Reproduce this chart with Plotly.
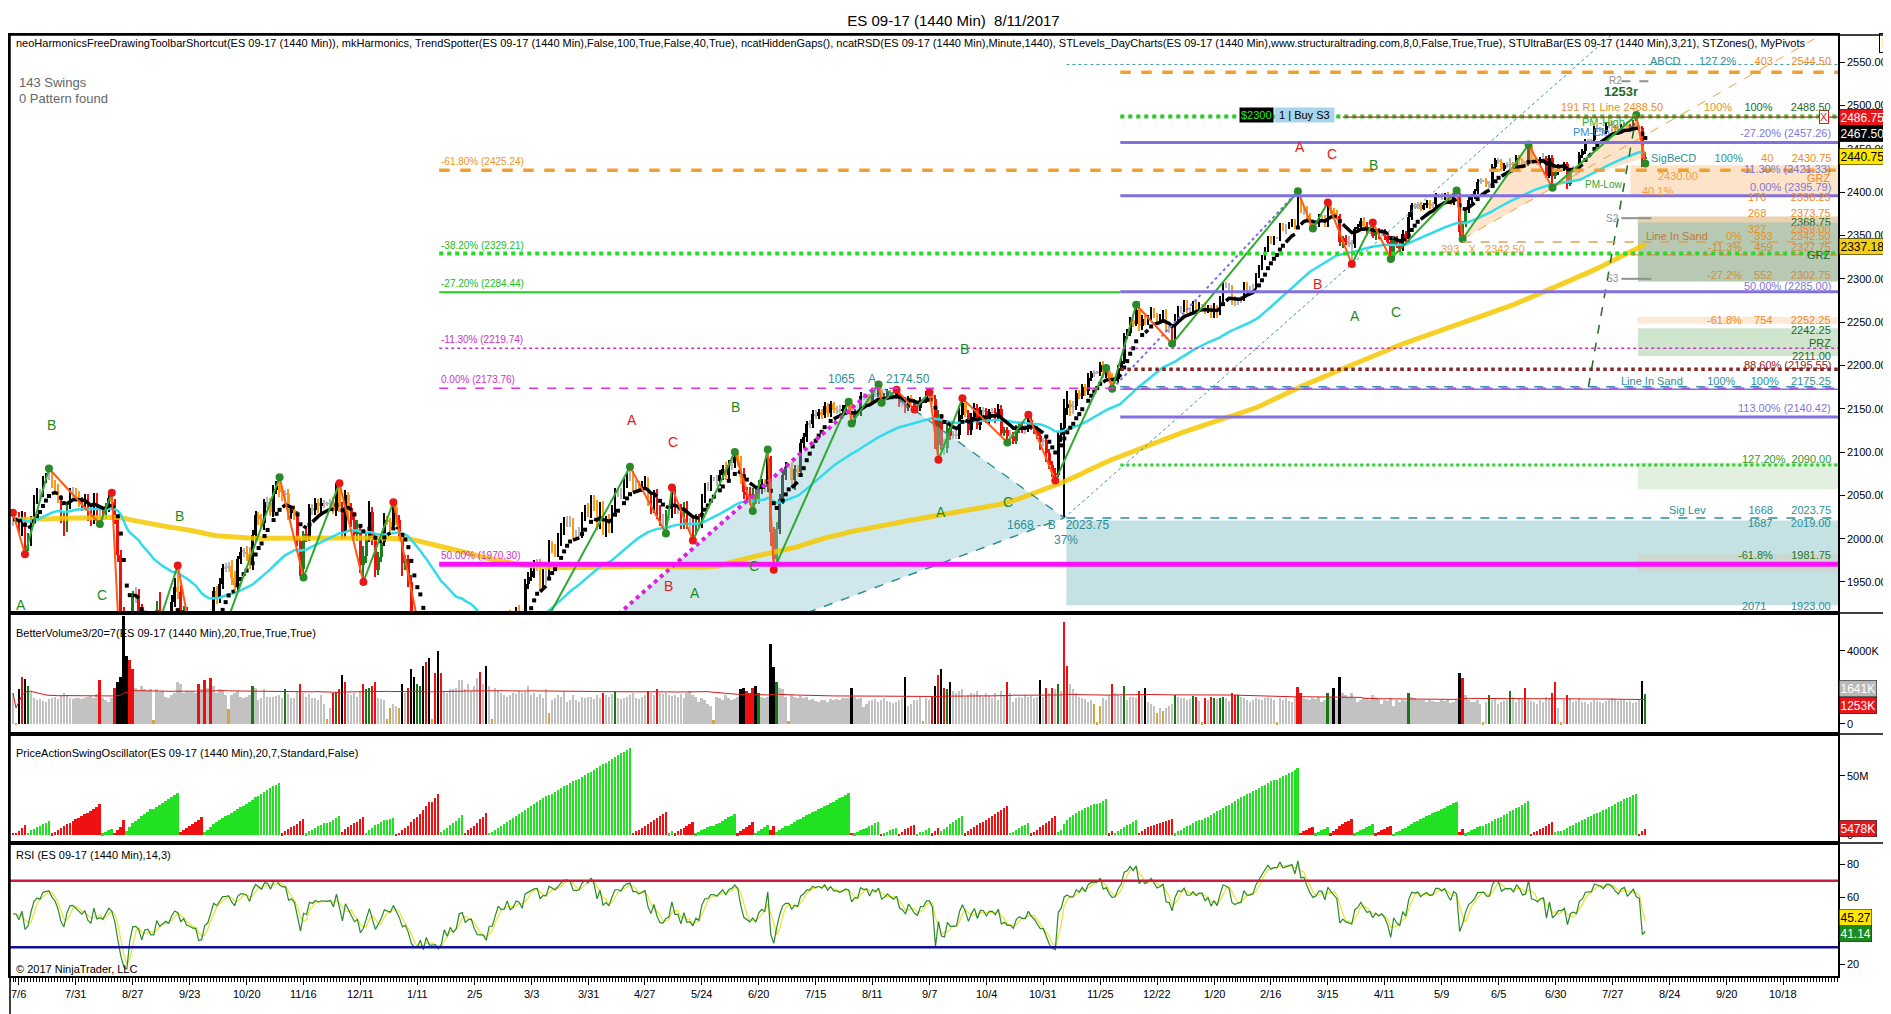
import numpy as np
import pandas as pd
import plotly.graph_objects as go

# ES 09-17 daily (1440 min) bars, 2 Jul 2015 .. 11 Aug 2017
tick_labels = ["7/6", "7/31", "8/27", "9/23", "10/20", "11/16", "12/11", "1/11", "2/5", "3/3",
               "3/31", "4/27", "5/24", "6/20", "7/15", "8/11", "9/7", "10/4", "10/31", "11/25",
               "12/22", "1/20", "2/16", "3/15", "4/11", "5/9", "6/5", "6/30", "7/27", "8/24",
               "9/20", "10/18"]

closes = [
    2022, 2022, 2013, 2026, 1992, 1997, 2022, 2045, 2054, 2052, 2069, 2072, 2073, 2064, 2059, 2047, 2025, 2013, 2038, 2053, 2054, 2049,
    2043, 2039, 2045, 2029, 2023, 2049, 2029, 2031, 2028, 2037, 2047, 2042, 2024, 1981, 1916, 1838, 1813, 1885, 1933, 1934, 1917,
    1862, 1896, 1899, 1869, 1869, 1918, 1891, 1901, 1909, 1901, 1927, 1944, 1938, 1906, 1915, 1891, 1887, 1880, 1879, 1830, 1832, 1868,
    1875, 1903, 1939, 1932, 1948, 1966, 1967, 1969, 1955, 1946, 1976, 1985, 1985, 1982, 1970, 2004, 2027, 2023, 2018, 2042, 2041, 2031,
    2056, 2061, 2054, 2051, 2051, 2030, 2033, 2027, 1997, 1965, 2005, 2002, 2035, 2033, 2041, 2038, 2041, 2040, 2040, 2042, 2032,
    2060, 2037, 2008, 2050, 2035, 2021, 2005, 2010, 1970, 1980, 2001, 2031, 1999, 1964, 1979, 1996, 2022, 2019, 2015, 2036, 2021, 2002,
    1972, 1976, 1950, 1903, 1882, 1883, 1898, 1850, 1881, 1840, 1840, 1841, 1819, 1829, 1866, 1838, 1863, 1842, 1853, 1900,
    1904, 1868, 1877, 1879, 1844, 1817, 1816, 1815, 1793, 1829, 1829, 1860, 1891, 1881, 1882, 1910, 1885, 1893, 1915, 1912, 1896,
    1948, 1956, 1963, 1969, 1971, 1949, 1959, 1959, 1992, 1989, 1985, 1997, 2010, 2019, 2021, 2019, 2006, 2005, 2007, 2025, 2033, 2030,
    2044, 2037, 2016, 2037, 2012, 2018, 2012, 2033, 2053, 2053, 2051, 2065, 2071, 2073, 2062, 2062, 2059, 2062, 2066, 2046, 2036,
    2051, 2033, 2021, 2020, 2027, 2029, 2054, 2034, 2034, 2017, 2036, 2017, 2018, 2010, 2022, 2018, 2046, 2060, 2060, 2069, 2069, 2067,
    2074, 2080, 2074, 2085, 2087, 2094, 2090, 2071, 2054, 2050, 2047, 2052, 2046, 2058, 2063, 2060, 2093, 2008, 1976, 2011, 2046, 2074,
    2083, 2083, 2068, 2080, 2077, 2110, 2117, 2132, 2132, 2144, 2142, 2146, 2143, 2153, 2145, 2155, 2149, 2149, 2147, 2150, 2154,
    2153, 2139, 2146, 2146, 2165, 2163, 2164, 2157, 2168, 2166, 2172, 2161, 2164, 2169, 2166, 2164, 2168, 2157, 2155, 2151, 2162, 2158, 2153,
    2151, 2160, 2160, 2166, 2166, 2161, 2108, 2139, 2107, 2105, 2128, 2119, 2119, 2120, 2143, 2157, 2145, 2126, 2140, 2151, 2131, 2148,
    2147, 2137, 2146, 2146, 2140, 2150, 2122, 2125, 2119, 2119, 2113, 2126, 2130, 2127, 2127, 2137, 2130, 2126, 2119, 2112, 2112,
    2099, 2085, 2076, 2073, 2120, 2128, 2151, 2155, 2152, 2153, 2168, 2165, 2175, 2170, 2186, 2191, 2192, 2192, 2201, 2190, 2193, 2187,
    2183, 2184, 2197, 2205, 2234, 2238, 2252, 2248, 2264, 2245, 2254, 2250, 2255, 2263, 2258, 2253, 2256, 2261, 2242, 2241, 2231,
    2253, 2266, 2265, 2272, 2264, 2264, 2270, 2266, 2270, 2270, 2263, 2267, 2259, 2266, 2261, 2276, 2293, 2292, 2290, 2276, 2274,
    2276, 2277, 2293, 2289, 2289, 2291, 2304, 2313, 2325, 2334, 2346, 2343, 2347, 2347, 2362, 2358, 2360, 2363, 2366, 2360,
    2394, 2379, 2381, 2373, 2366, 2361, 2363, 2371, 2371, 2363, 2383, 2379, 2376, 2372, 2342, 2347, 2343, 2342, 2340, 2357, 2360, 2367, 2361,
    2356, 2357, 2350, 2355, 2352, 2354, 2350, 2342, 2326, 2346, 2339, 2335, 2352, 2346, 2371, 2385, 2384, 2386, 2381,
    2385, 2388, 2385, 2386, 2396, 2396, 2394, 2397, 2392, 2388, 2399, 2397, 2354, 2363, 2379, 2391, 2395, 2401, 2412, 2413, 2413, 2409, 2409,
    2429, 2437, 2435, 2427, 2431, 2432, 2432, 2429, 2440, 2437, 2432, 2433, 2453, 2437, 2436, 2434, 2438, 2439, 2419, 2440, 2419, 2423,
    2429, 2429, 2432, 2410, 2425, 2427, 2425, 2443, 2447, 2459, 2459, 2460, 2474, 2473, 2472, 2470, 2477, 2477, 2475, 2472, 2470,
    2476, 2478, 2472, 2476, 2480, 2475, 2474, 2438, 2440.75,
]

# how far each bar's high / low reaches beyond its body
hi_ext = [
    8, 2, 9, 6, 5, 9, 4, 5, 4, 3, 3, 4, 8, 5, 4, 4, 3, 6, 4, 5, 6, 5,
    6, 5, 7, 6, 5, 4, 4, 5, 5, 4, 4, 6, 4, 3, 6, 5, 40, 12, 6, 10, 8,
    8, 10, 12, 15, 2, 10, 20, 8, 6, 5, 8, 10, 25, 8, 7, 6, 10, 6, 12, 5, 8, 5,
    6, 8, 5, 6, 6, 5, 5, 4, 6, 8, 4, 5, 4, 6, 8, 6, 5, 4, 5, 4, 6, 6,
    6, 5, 10, 6, 5, 6, 5, 6, 5, 4, 4, 8, 5, 5, 6, 5, 6, 4, 2, 4, 6,
    4, 4, 5, 6, 4, 6, 10, 12, 6, 12, 6, 12, 6, 6, 6, 6, 8, 4, 5, 6, 4, 6,
    6, 5, 5, 8, 10, 10, 8, 12, 6, 5, 2, 10, 15, 12, 8, 6, 8, 12, 6, 8,
    5, 6, 15, 10, 8, 5, 8, 15, 8, 5, 2, 5, 6, 5, 8, 5, 8, 5, 6, 8, 5,
    5, 5, 6, 6, 6, 5, 6, 8, 6, 5, 5, 10, 8, 6, 5, 5, 5, 4, 6, 6, 6, 8,
    6, 6, 8, 5, 6, 8, 10, 6, 6, 5, 5, 6, 5, 10, 5, 6, 5, 5, 6, 5, 6,
    5, 6, 6, 8, 6, 6, 5, 6, 6, 6, 6, 8, 6, 6, 6, 6, 5, 4, 5, 4, 2, 5,
    5, 5, 8, 6, 8, 6, 6, 5, 10, 6, 10, 6, 5, 10, 6, 6, 10, 2, 6, 8, 5, 5,
    5, 2, 6, 5, 5, 5, 5, 4, 5, 4, 4, 4, 4, 5, 4, 4, 3, 4, 5, 4, 4,
    4, 4, 4, 3, 4, 3, 3, 3, 4, 3, 6, 3, 4, 4, 3, 3, 4, 3, 3, 8, 3, 4, 3,
    3, 4, 2, 4, 3, 3, 5, 10, 5, 8, 5, 5, 5, 6, 10, 5, 5, 3, 5, 6, 5, 4,
    4, 4, 4, 5, 5, 6, 4, 4, 4, 6, 4, 5, 4, 4, 4, 6, 4, 4, 4, 6, 4,
    4, 5, 5, 5, 4, 6, 10, 15, 5, 6, 4, 4, 4, 4, 5, 3, 3, 2, 3, 4, 4, 4,
    4, 4, 4, 4, 4, 4, 4, 3, 6, 10, 4, 4, 3, 4, 3, 3, 3, 3, 4, 3, 4,
    6, 3, 3, 4, 3, 3, 4, 4, 3, 1, 3, 3, 3, 6, 4, 4, 3, 3, 3, 3, 4,
    3, 3, 3, 3, 3, 3, 3, 3, 3, 3, 3, 3, 3, 1, 3, 3, 3, 3, 3, 3,
    7, 3, 3, 3, 3, 3, 3, 4, 3, 3, 5, 4, 3, 3, 3, 3, 4, 6, 3, 3, 3, 3, 4,
    5, 3, 8, 4, 4, 4, 3, 3, 4, 3, 3, 5, 4, 3, 6, 3, 3, 3, 3,
    3, 3, 3, 3, 3, 2, 3, 2, 3, 2, 3, 3, 2, 4, 3, 3, 3, 3, 3, 3, 1, 3, 4,
    3, 3, 3, 3, 3, 3, 8, 3, 3, 3, 3, 3, 2, 3, 3, 3, 3, 6, 3, 3, 3, 3,
    3, 1, 3, 3, 3, 3, 3, 3, 3, 3, 2, 2, 2, 2, 2, 2, 3, 4, 5, 3, 4,
    3, 3, 3, 3, 3, 9, 3, 3, 6,
]
lo_ext = [
    7, 1, 8, 10, 10, 6, 5, 4, 5, 5, 4, 5, 4, 6, 5, 6, 7, 10, 5, 4, 6, 7,
    6, 7, 6, 9, 8, 6, 9, 12, 6, 5, 6, 5, 7, 8, 6, 60, 20, 25, 8, 7, 9,
    10, 8, 6, 10, 2, 8, 5, 12, 8, 8, 6, 6, 8, 10, 8, 10, 8, 8, 7, 8, 6, 5,
    5, 30, 6, 8, 6, 6, 5, 6, 8, 6, 6, 5, 6, 8, 5, 6, 8, 7, 6, 8, 6, 5,
    6, 5, 6, 8, 6, 8, 7, 5, 5, 8, 10, 6, 5, 6, 6, 8, 12, 5, 2, 5, 4,
    6, 6, 8, 7, 10, 8, 6, 8, 10, 20, 8, 5, 6, 8, 6, 6, 4, 3, 8, 4, 5, 5,
    15, 8, 6, 10, 6, 12, 8, 6, 25, 10, 2, 8, 30, 10, 6, 8, 6, 6, 12, 6,
    10, 6, 15, 8, 6, 20, 15, 10, 15, 6, 2, 5, 6, 8, 6, 5, 6, 15, 8, 6, 6,
    8, 6, 5, 8, 6, 8, 6, 12, 6, 5, 6, 6, 6, 6, 5, 6, 6, 6, 6, 6, 5, 5,
    6, 5, 6, 5, 8, 10, 5, 6, 5, 5, 5, 5, 6, 5, 8, 6, 5, 5, 6, 8, 8,
    6, 10, 6, 6, 14, 6, 5, 6, 6, 6, 6, 6, 12, 12, 6, 6, 6, 5, 5, 5, 2, 6,
    6, 6, 6, 6, 6, 6, 6, 8, 8, 8, 8, 15, 6, 6, 6, 6, 6, 16, 12, 6, 6, 6,
    6, 2, 10, 12, 6, 6, 5, 5, 4, 4, 4, 4, 5, 4, 4, 4, 4, 5, 4, 5, 4,
    5, 6, 5, 4, 4, 3, 3, 5, 3, 3, 3, 4, 5, 3, 4, 4, 3, 5, 3, 6, 4, 3, 4,
    4, 4, 2, 3, 4, 5, 4, 17, 5, 8, 6, 5, 4, 4, 5, 5, 4, 6, 6, 4, 4, 5,
    4, 4, 5, 5, 6, 4, 4, 4, 8, 4, 4, 4, 4, 5, 6, 4, 4, 5, 4, 10, 5,
    10, 5, 5, 6, 2, 8, 104, 8, 10, 8, 5, 4, 4, 5, 4, 4, 4, 2, 4, 5, 5, 4,
    10, 4, 4, 3, 3, 4, 4, 4, 3, 5, 4, 3, 3, 3, 3, 3, 2, 3, 3, 4, 6,
    4, 3, 4, 3, 3, 3, 6, 8, 3, 1, 4, 3, 4, 4, 6, 3, 3, 3, 3, 6, 5,
    4, 4, 3, 3, 3, 3, 3, 3, 3, 3, 3, 3, 4, 1, 3, 3, 6, 3, 3, 3,
    3, 3, 5, 5, 5, 3, 5, 3, 3, 3, 3, 4, 3, 4, 4, 6, 4, 5, 23, 4, 3, 3, 4,
    5, 4, 3, 5, 6, 3, 5, 3, 3, 4, 3, 4, 3, 4, 3, 3, 3, 3, 3,
    2, 3, 4, 3, 3, 3, 3, 3, 4, 3, 3, 3, 4, 8, 3, 3, 3, 3, 3, 3, 1, 3, 4,
    3, 3, 3, 3, 3, 3, 12, 6, 3, 5, 5, 3, 3, 3, 3, 3, 3, 3, 3, 3, 14, 4,
    3, 1, 4, 6, 3, 3, 5, 3, 3, 3, 3, 3, 3, 3, 3, 3, 3, 3, 5, 5, 3,
    3, 3, 3, 3, 3, 3, 3, 9, 5,
]

# contracts per bar, thousands
volume_k = [
    1700, 60, 1900, 2550, 2450, 2100, 1750, 1450, 1300, 1350, 1250, 1200, 1350, 1400, 1500, 1350, 1600, 1700, 1550, 1450, 1350, 1400,
    1400, 1350, 1400, 1500, 1550, 1400, 1650, 2400, 1450, 1300, 1200, 1400, 2000, 2300, 2600, 5900, 3700, 3500, 3000, 2000, 1800,
    2100, 1900, 1800, 1900, 200, 1900, 1750, 1800, 1500, 1450, 1600, 1700, 2300, 2200, 1700, 1800, 1750, 1800, 1700, 2200, 1900, 2400,
    2000, 2500, 2100, 1700, 1900, 1850, 1600, 800, 1600, 1700, 1800, 1500, 1400, 1500, 1600, 2100, 2000, 1300, 1400, 1900, 1500, 1500,
    1500, 1550, 1600, 1450, 1900, 1650, 1450, 1400, 1750, 2200, 1700, 1500, 1650, 1400, 1450, 1300, 1600, 1100, 250, 900, 1700,
    1750, 1900, 2700, 2300, 1650, 1600, 1700, 1500, 1800, 2200, 1900, 2000, 2100, 2300, 1400, 1350, 1300, 300, 900, 1100, 1000, 900,
    2200, 1700, 2000, 3000, 2600, 2200, 2100, 3200, 3400, 3600, 300, 2800, 4000, 2800, 1800, 1700, 1900, 1900, 2000, 2400,
    2400, 1900, 2200, 1800, 2100, 2500, 2850, 2200, 3200, 2100, 300, 2000, 1800, 1700, 1600, 1500, 1600, 1700, 1650, 1800, 1700,
    1750, 2100, 1600, 1700, 1500, 1650, 1450, 1900, 600, 1300, 1400, 1600, 1500, 1800, 1200, 1300, 1600, 1300, 1200, 1500, 1400, 1500,
    1500, 1350, 1600, 1400, 1700, 1600, 1500, 1650, 1800, 1450, 1350, 1400, 1500, 1600, 1700, 1400, 1350, 1500, 1600, 1800, 1700,
    1600, 1900, 1700, 1650, 1700, 1600, 1550, 1600, 1500, 1650, 1450, 1700, 1800, 1600, 1500, 1200, 1400, 1300, 1100, 1000, 200, 1500,
    1400, 1300, 1600, 1400, 1300, 1350, 1500, 1900, 2000, 1800, 1700, 2000, 2100, 1700, 1500, 1400, 1500, 4400, 3100, 2300, 2000, 1900,
    1500, 150, 1600, 1500, 1400, 1550, 1400, 1500, 1300, 1350, 1250, 1200, 1300, 1300, 1200, 1350, 1300, 1350, 1300, 1400, 1400,
    1400, 1950, 1500, 1350, 1450, 950, 1100, 1250, 1300, 1350, 1200, 1300, 1400, 1250, 1200, 1150, 1200, 1300, 1450, 2550, 1000, 1100, 1300,
    1300, 1500, 150, 1400, 1300, 1500, 2100, 2700, 3000, 2000, 1900, 2300, 1800, 1700, 1800, 1900, 1500, 1600, 1700, 1650, 1800, 1600,
    1500, 1700, 1600, 1450, 1700, 1300, 1800, 1600, 2300, 1700, 1200, 1400, 1500, 1450, 1600, 1500, 1550, 1400, 1500, 2400, 1500,
    2000, 1700, 2000, 1900, 2200, 1800, 5600, 3200, 2200, 1900, 1700, 1500, 1400, 1350, 1200, 1300, 1100, 100, 1000, 1400, 1300, 1600,
    2200, 1700, 1600, 1550, 2100, 1300, 1500, 1500, 1400, 1800, 1600, 2000, 1200, 1100, 1000, 600, 900, 700, 900, 1000, 1100,
    1600, 1500, 1400, 1450, 1300, 1350, 1550, 1500, 1250, 100, 1400, 1300, 1500, 1400, 1350, 1450, 1500, 1400, 1250, 1700, 1600,
    1600, 1500, 1400, 1300, 1200, 1300, 1400, 1350, 1300, 1400, 1500, 1400, 1300, 100, 1400, 1300, 1400, 1250, 1200, 1500,
    2050, 1700, 1400, 1350, 1300, 1400, 1350, 1500, 1200, 1300, 1700, 1500, 2000, 1300, 2600, 1700, 1600, 1500, 1700, 1400, 1200, 1300, 1450,
    1400, 1300, 1600, 1500, 1400, 1100, 1300, 1250, 1400, 1000, 1300, 1200, 1300, 1250, 1700, 1500, 1400, 1300, 1300,
    1300, 1200, 1300, 1250, 1200, 1200, 1300, 1250, 1300, 1150, 1200, 1300, 2800, 2500, 1600, 1300, 1200, 1200, 1300, 1100, 100, 1200, 1600,
    1300, 1400, 1100, 1200, 1250, 1300, 1800, 1500, 1200, 1400, 1350, 2000, 1300, 1250, 1200, 1100, 1300, 1200, 1500, 1400, 1700, 2300,
    900, 100, 1300, 1600, 1400, 1200, 1250, 1400, 1200, 1200, 1100, 1200, 1300, 1250, 1200, 1150, 1250, 1300, 1400, 1350, 1250,
    1300, 1300, 1200, 1250, 1150, 1200, 1300, 2360, 1641,
]

# bars where the price-action swings turn (alternating high / low, starting with a high)
swing_pivots = [0, 4, 12, 29, 33, 37, 55, 63, 89, 97, 109, 117, 127, 142, 150, 158, 206, 218, 220, 227,
                241, 247, 252, 254, 279, 280, 289, 290, 295, 301, 306, 309, 317, 332, 339, 348, 365, 367,
                375, 387, 429, 434, 439, 447, 454, 460, 482, 484, 506, 514, 542, 545]

fib_levels = [2425.24, 2329.21, 2284.44, 2219.74, 2173.76, 1970.30]
fib_names = ["-61.80%", "-38.20%", "-27.20%", "-11.30%", "0.00%", "50.00%"]
mirror_levels = [2457.26, 2395.79, 2285.00, 2140.42]
pattern_bars = [158, 289, 351]            # X, A, B of the large harmonic
abcd_bars = [484, 506, 514, 542, 545]     # X, A, B, C, D of the small one
sig_zone = [1923.00, 2021.00]
target_zones = [[2297, 2370], [2211, 2243], [2057, 2088], [1962, 1982]]
grz_zone = [2396, 2431]
line_in_sand = 2175.25
price_tags = [2486.75, 2467.50, 2440.75, 2337.18]
volume_tags = [1641, 1253]
osc_tag = 5478
rsi_tags = [45.27, 41.14]

n = len(closes)
assert len(hi_ext) == n and len(lo_ext) == n and len(volume_k) == n, (n, len(hi_ext), len(lo_ext), len(volume_k))

idx = np.arange(n)
close = np.array(closes, dtype=float)
opens = np.r_[close[0], close[:-1]]
highs = np.maximum(opens, close) + np.array(hi_ext)
lows = np.minimum(opens, close) - np.array(lo_ext)
vol = np.array(volume_k, dtype=float)

s = pd.Series(close)
ema_fast = s.ewm(span=10, adjust=False).mean().to_numpy()
ema_mid = s.ewm(span=20, adjust=False).mean().to_numpy()
ema_slow = s.ewm(span=50, adjust=False).mean().to_numpy()
# 200 bar average; bars before the first one on the chart are taken as flat at the first close
warm = pd.Series(np.r_[np.full(199, close[0]), close])
sma_long = warm.rolling(200).mean().to_numpy()[199:]

# Wilder RSI(14) seeded with a neutral state, plus its 3 bar average
chg = np.r_[0.0, np.diff(close)]
avg_g = avg_l = np.abs(chg[1:15]).mean() / 2
rsi_vals = []
for c in chg:
    avg_g = (avg_g * 13 + max(c, 0)) / 14
    avg_l = (avg_l * 13 + max(-c, 0)) / 14
    rsi_vals.append(100 - 100 / (1 + avg_g / avg_l) if avg_l > 0 else 100.0)
rsi = pd.Series(rsi_vals)
rsi_avg = rsi.rolling(3, min_periods=1).mean()

GRAY, BLACK, ORANGE, DKGREEN, RED = "#b4b4b4", "#000000", "#ff9818", "#1d7d1d", "#ee1010"
TEAL, ORANGE_T, DKGREEN_T, PURPLE_T, MAROON = "#2b8f96", "#f08c1e", "#1f6b1f", "#8076d8", "#8b2222"

bar_colors = []
for o, c, m in zip(opens, close, ema_mid):
    if abs(c - o) < 2.5:
        bar_colors.append(GRAY)
    elif c > o:
        bar_colors.append(BLACK if c >= m else DKGREEN)
    else:
        bar_colors.append(ORANGE if c >= m else RED)

vavg20 = pd.Series(vol).rolling(20, min_periods=1).mean().to_numpy()
vol_colors = []
for v, a, o, c in zip(vol, vavg20, opens, close):
    if v < 0.6 * a:
        vol_colors.append("#d4a640")
    elif v > 1.35 * a:
        vol_colors.append(RED if c >= o else BLACK)
    elif v > 1.15 * a:
        vol_colors.append("#157a15" if c >= o else RED)
    else:
        vol_colors.append("#c2c2c2")
vol_avg = pd.Series(vol).rolling(100, min_periods=1).mean().to_numpy()

# swing oscillator: volume accumulated along each swing
osc = np.zeros(n)
osc_colors = ["#ee1111"] * n
for k in range(len(swing_pivots) - 1):
    a = 0 if k == 0 else swing_pivots[k] + 1
    b = swing_pivots[k + 1]
    osc[a:b + 1] = np.cumsum(vol[a:b + 1]) / 1000.0
    for i in range(a, b + 1):
        osc_colors[i] = "#ee1111" if k % 2 == 0 else "#22e022"

piv_price = [highs[p] if k % 2 == 0 else lows[p] for k, p in enumerate(swing_pivots)]

X_END = 609.33
FIB_X0 = 142.3
TOOL_X0 = 369.7

fig = go.Figure()

# large harmonic X-A-B fill
px_ = [pattern_bars[0], pattern_bars[1], pattern_bars[2], pattern_bars[0]]
py_ = [lows[pattern_bars[0]], highs[pattern_bars[1]], lows[pattern_bars[2]], lows[pattern_bars[0]]]
fig.add_trace(go.Scatter(x=px_, y=py_, fill="toself", fillcolor="rgba(150,205,210,0.45)",
                         line=dict(width=0), mode="lines", xaxis="x", yaxis="y"))
# small ABCD fills
xa, aa, ba, ca, da = abcd_bars
fig.add_trace(go.Scatter(x=[xa, aa, ba, xa], y=[lows[xa], highs[aa], lows[ba], lows[xa]], fill="toself",
                         fillcolor="rgba(252,196,140,0.45)", line=dict(width=0), mode="lines"))
fig.add_trace(go.Scatter(x=[ba, ca, da, ba], y=[lows[ba], highs[ca], close[da], lows[ba]], fill="toself",
                         fillcolor="rgba(252,196,140,0.45)", line=dict(width=0), mode="lines"))

# price bars
fig.add_trace(go.Bar(x=idx, y=highs - lows, base=lows, width=0.4, marker=dict(color=bar_colors, line=dict(width=0)),
                     xaxis="x", yaxis="y"))
fig.add_trace(go.Bar(x=idx, y=np.maximum(np.abs(close - opens), 0.9), base=np.minimum(opens, close), width=0.9,
                     marker=dict(color=bar_colors, line=dict(width=0)), xaxis="x", yaxis="y"))

# moving averages
fig.add_trace(go.Scatter(x=idx, y=sma_long, mode="lines", line=dict(color="rgba(245,200,0,0.85)", width=5)))
fig.add_trace(go.Scatter(x=idx, y=ema_slow, mode="lines", line=dict(color="#30dcec", width=2.5)))
steep = np.r_[False, np.abs(np.diff(ema_fast)) > 4.0]
solid = np.where(steep, np.nan, ema_fast)
fig.add_trace(go.Scatter(x=idx, y=solid, mode="lines", line=dict(color="black", width=3.5), connectgaps=False))
fig.add_trace(go.Scatter(x=idx[steep], y=ema_fast[steep], mode="markers",
                         marker=dict(symbol="square", size=4, color="black")))

# harmonic legs
fig.add_trace(go.Scatter(x=[pattern_bars[0], pattern_bars[1]], y=[py_[0], py_[1]], mode="lines",
                         line=dict(color="#e020e0", width=4, dash="dot")))
fig.add_trace(go.Scatter(x=[pattern_bars[0], pattern_bars[2], pattern_bars[1]], y=[py_[0], py_[2], py_[1]],
                         mode="lines", line=dict(color=TEAL, width=1.5, dash="dash")))
# B trend line through the March 2017 low
b0, b1 = pattern_bars[2], 447
slope = (lows[b1] - lows[b0]) / (b1 - b0)
fig.add_trace(go.Scatter(x=[b0, 545], y=[lows[b0], lows[b0] + slope * (545 - b0)], mode="lines",
                         line=dict(color="#3a8fb0", width=1, dash="dot")))
# Dec->Mar leg
fig.add_trace(go.Scatter(x=[367, 429], y=[lows[367], highs[429]], mode="lines",
                         line=dict(color="#7c70e0", width=2, dash="dot")))
# line in sand projection
fig.add_trace(go.Scatter(x=[526, ca], y=[line_in_sand, highs[ca]], mode="lines",
                         line=dict(color="#1d6b1d", width=1.5, dash="dash")))
# X->B projection of the small pattern
sl2 = (lows[ba] - lows[xa]) / (ba - xa)
fig.add_trace(go.Scatter(x=[xa, X_END], y=[lows[xa], lows[xa] + sl2 * (X_END - xa)], mode="lines",
                         line=dict(color="#f0a040", width=1, dash="dash")))
fig.add_trace(go.Scatter(x=[xa, aa, ba, ca, da], y=[lows[xa], highs[aa], lows[ba], highs[ca], close[da]],
                         mode="lines", line=dict(color="#f0a040", width=1, dash="dash")))

# zigzag swings
zx_up, zy_up, zx_dn, zy_dn = [], [], [], []
for k in range(len(swing_pivots) - 1):
    seg_x = [swing_pivots[k], swing_pivots[k + 1], None]
    seg_y = [piv_price[k], piv_price[k + 1], None]
    if k % 2 == 0:
        zx_dn += seg_x
        zy_dn += seg_y
    else:
        zx_up += seg_x
        zy_up += seg_y
fig.add_trace(go.Scatter(x=zx_up, y=zy_up, mode="lines", line=dict(color="#2ea82e", width=2)))
fig.add_trace(go.Scatter(x=zx_dn, y=zy_dn, mode="lines", line=dict(color="#ff5a14", width=2)))
dot_cols = []
for k, p in enumerate(piv_price):
    if k < 2:
        dot_cols.append("#e81818")
    else:
        dot_cols.append("#2a8a2a" if p > piv_price[k - 2] else "#e81818")
fig.add_trace(go.Scatter(x=swing_pivots, y=piv_price, mode="markers",
                         marker=dict(size=8, color=dot_cols, line=dict(width=0))))

# volume panel
fig.add_trace(go.Bar(x=idx, y=vol, width=0.6, marker=dict(color=vol_colors, line=dict(width=0)),
                     xaxis="x2", yaxis="y2"))
fig.add_trace(go.Scatter(x=idx, y=vol_avg, mode="lines", line=dict(color="#d41a1a", width=1),
                         xaxis="x2", yaxis="y2"))
# oscillator panel
fig.add_trace(go.Bar(x=idx, y=osc, width=0.6, marker=dict(color=osc_colors, line=dict(width=0)),
                     xaxis="x3", yaxis="y3"))
# rsi panel
fig.add_trace(go.Scatter(x=idx, y=rsi_avg, mode="lines", line=dict(color="#e8e430", width=1.2),
                         xaxis="x4", yaxis="y4"))
fig.add_trace(go.Scatter(x=idx, y=rsi, mode="lines", line=dict(color="#2a8a2a", width=1.2),
                         xaxis="x4", yaxis="y4"))

shapes = []


def hline(y, x0, color, width, dash="solid", yref="y", x1=X_END, layer="above"):
    shapes.append(dict(type="line", xref="x", yref=yref, x0=x0, x1=x1, y0=y, y1=y,
                       line=dict(color=color, width=width, dash=dash), layer=layer))


def zone(y0, y1, x0, color):
    shapes.append(dict(type="rect", xref="x", yref="y", x0=x0, x1=X_END, y0=y0, y1=y1,
                       fillcolor=color, line=dict(width=0), layer="below"))


zone(sig_zone[0], sig_zone[1], 351.7, "#c4e2e4")
zone(grz_zone[0], grz_zone[1], 540, "#fde3c8")
zone(target_zones[0][0], target_zones[0][1], 542.5, "#b7c9b3")
zone(2365, 2372, 542.5, "#e8d2b0")
zone(target_zones[1][0], target_zones[1][1], 542.5, "#d0e5ce")
zone(2248, 2256, 542.5, "#fde8d4")
zone(target_zones[2][0], target_zones[2][1], 542.5, "#e2f0e0")
zone(target_zones[3][0], target_zones[3][1], 542.5, "#cbd8cf")

fib_styles = [("#f0a030", 3.5, "dash"), ("#22dd22", 4, "dot"), ("#22cc22", 2, "solid"),
              ("#d030d0", 1.5, "dot"), ("#e030e0", 1.5, "dash"), ("#ff10ff", 5, "solid")]
for lvl, (col, w, d) in zip(fib_levels, fib_styles):
    hline(lvl, FIB_X0, col, w, d, x1=(TOOL_X0 if lvl == 2284.44 else X_END))
for lvl in mirror_levels:
    hline(lvl, TOOL_X0, "#8070e0", 3)
hline(2538.5, TOOL_X0, "#f0a030", 3.5, "dash")
hline(2547.5, 351.7, "#3a9aaa", 1, "dot")
hline(2487.5, TOOL_X0, "#22cc22", 4, "dot")
hline(price_tags[0], 444, "#d42020", 1.2)
hline(2195.55, TOOL_X0, MAROON, 3.5, "dot")
hline(line_in_sand, TOOL_X0, "#3a8fb0", 1.5, "dash")
hline(2172.5, TOOL_X0, "#8070e0", 1.5)
hline(2085.0, TOOL_X0, "#33cc33", 3, "dot")
hline(2023.75, 351.7, TEAL, 1.5, "dash")
hline(2342.5, 484, "#e0a050", 1.5, "dash")
hline(2327.75, 540, "#c89040", 1, "dash")
hline(2370, 537, "#909090", 2, x1=547)
hline(2300, 537, "#909090", 2, x1=547)
hline(2528, 537, "#909090", 2, "dash", x1=547)

# rsi guide lines
shapes.append(dict(type="line", xref="paper", yref="y4", x0=0, x1=1, y0=70, y1=70, line=dict(color="#cc1a40", width=2.5)))
shapes.append(dict(type="line", xref="paper", yref="y4", x0=0, x1=1, y0=30, y1=30, line=dict(color="#1010a0", width=2.5)))

# outer frame and panel separators reaching the right edge
PX_R = 1890 / 1830
for yy in [0.3858, 0.2572, 0.1413]:
    shapes.append(dict(type="line", xref="paper", yref="paper", x0=0, x1=PX_R, y0=yy, y1=yy,
                       line=dict(color="black", width=1.5)))
shapes.append(dict(type="rect", xref="paper", yref="paper", x0=0, x1=PX_R, y0=-45 / 941, y1=1,
                   line=dict(color="black", width=1.5)))

annotations = []


def note(x, y, text, color="black", size=12, xanchor="center", yanchor="middle", xref="x", yref="y", **extra):
    d = dict(x=x, y=y, xref=xref, yref=yref, text=text, showarrow=False,
             font=dict(color=color, size=size), xanchor=xanchor, yanchor=yanchor)
    d.update(extra)
    annotations.append(d)


def span(color, txt):
    return "<span style='color:%s'>%s</span>" % (color, txt)


def sp(k):
    return "&nbsp;" * k


ind_text = ("neoHarmonicsFreeDrawingToolbarShortcut(ES 09-17 (1440 Min)), mkHarmonics, "
            "TrendSpotter(ES 09-17 (1440 Min),False,100,True,False,40,True), ncatHiddenGaps(), "
            "ncatRSD(ES 09-17 (1440 Min),Minute,1440), STLevels_DayCharts(ES 09-17 (1440 Min),"
            "www.structuraltrading.com,8,0,False,True,True), STUltraBar(ES 09-17 (1440 Min),3,21), "
            "STZones(), MyPivots")
note(0.002, (968 - 35) / 941, ind_text, size=11, xanchor="left", xref="paper", yref="paper")
note(0.004, (968 - 74) / 941, "143 Swings", color="#666666", size=13, xanchor="left", xref="paper", yref="paper")
note(0.004, (968 - 90) / 941, "0 Pattern found", color="#666666", size=13, xanchor="left", xref="paper", yref="paper")
note(0.002, (968 - 625) / 941, "BetterVolume3/20=7(ES 09-17 (1440 Min),20,True,True,True)", size=11,
     xanchor="left", xref="paper", yref="paper")
note(0.002, (968 - 745) / 941, "PriceActionSwingOscillator(ES 09-17 (1440 Min),20,7,Standard,False)", size=11,
     xanchor="left", xref="paper", yref="paper")
note(0.002, (968 - 847) / 941, "RSI (ES 09-17 (1440 Min),14,3)", size=11, xanchor="left", xref="paper", yref="paper")
note(0.002, (968 - 961) / 941, "© 2017 NinjaTrader, LLC", size=11, xanchor="left", xref="paper", yref="paper")

# date labels under the bottom panel
for k, lab in enumerate(tick_labels):
    note(2 + 19 * k, -10 / 941, lab, size=11, xref="x4", yref="paper", yanchor="top")

fib_colors = ["#e8941a", "#22bb22", "#22bb22", "#d030d0", "#d030d0", "#d030d0"]
for lvl, name, col in zip(fib_levels, fib_names, fib_colors):
    note(FIB_X0, lvl, "%s (%.2f)" % (name, lvl), color=col, size=10, xanchor="left", yanchor="bottom", yshift=1)

for x, y, t in [(12.7, 2131, "B"), (2.7, 1923, "A"), (29.7, 1935, "C"), (55.7, 2026, "B"), (241.3, 2152, "B"),
                (227.7, 1937, "A"), (247.3, 1968, "C"), (317.7, 2219, "B"), (309.7, 2031, "A"), (332.3, 2042, "C"),
                (454.3, 2431, "B"), (448, 2257, "A"), (461.7, 2262, "C")]:
    note(x, y, t, color="#1d8a1d", size=14)
for x, y, t in [(206.7, 2137, "A"), (220.3, 2112, "C"), (219, 1945, "B"), (429.7, 2452, "A"),
                (440.3, 2444, "C"), (435.7, 2294, "B")]:
    note(x, y, t, color="#e81818", size=14)

note(289, 2184, "1065" + sp(4) + "A" + sp(3) + "2174.50", color=TEAL, size=12)
note(349, 2016, "1668 -" + sp(2) + "B" + sp(3) + "2023.75", color=TEAL, size=12)
note(351.6, 1998, "37%", color=TEAL, size=12)
note(490.7, 2334, "393" + sp(3) + "X" + sp(3) + "2342.50", color="#f0a040", size=11)
note(537, 2516, "<b>1253r</b>", color=DKGREEN_T, size=13)
note(535, 2529, "R2", color="#909090", size=10)
note(534, 2370, "S2", color="#909090", size=10)
note(534, 2300, "S3", color="#909090", size=10)
note(531, 2481, "PM-High", color="#2ea82e", size=11)
note(527, 2469, "PM-Clo", color="#3a8ad8", size=11)
note(531, 2409, "PM-Low", color="#2ea82e", size=10)
note(549, 2401, "40.1%", color="#f0a040", size=11)
note(556, 2419, "2430.00", color="#f0a040", size=11)
note(421, 2489, "$2300", color="#22ee22", size=11, xanchor="right", bgcolor="black", borderpad=1)
note(421, 2489, sp(1) + "1" + sp(1) + "|" + sp(1) + "Buy S3" + sp(1), color="black", size=11, xanchor="left",
     bgcolor="#a8d4ec", borderpad=1)
note(604.7, price_tags[0], "X", color="#e81818", size=11, bgcolor="white", bordercolor="#e81818", borderpad=0)

R_X = 607.7
right_rows = [
    (2551, span(TEAL, "ABCD") + sp(6) + span(TEAL, "127.2%") + sp(6) + span(ORANGE_T, "403") + sp(6) + span(ORANGE_T, "2544.50")),
    (2498.5, span(ORANGE_T, "100%") + sp(4) + span(DKGREEN_T, "100%") + sp(6) + span(DKGREEN_T, "2488.50")),
    (2468, span(PURPLE_T, "-27.20% (2457.26)")),
    (2440, span(TEAL, "SigBeCD") + sp(6) + span(TEAL, "100%") + sp(6) + span(ORANGE_T, "40") + sp(6) + span(ORANGE_T, "2430.75")),
    (2427, span(PURPLE_T, "11.30% (2421.33)")),
    (2416, span(ORANGE_T, "GRZ")),
    (2406, span(PURPLE_T, "0.00% (2395.79)")),
    (2395, span(ORANGE_T, "170" + sp(8) + "2398.25")),
    (2376, span(ORANGE_T, "268" + sp(8) + "2373.75")),
    (2366, span(DKGREEN_T, "2368.75")),
    (2358, span(ORANGE_T, "327" + sp(8) + "2359.00")),
    (2349, span("#c07a30", "Line In Sand") + sp(6) + span(ORANGE_T, "0%") + sp(4) + span(ORANGE_T, "393") + sp(6) + span(ORANGE_T, "2342.50")),
    (2337, span("#c89040", "-11.3%" + sp(4) + "459" + sp(6) + "2327.75")),
    (2327, span(DKGREEN_T, "GRZ")),
    (2304, span("#c89040", "-27.2%" + sp(4) + "552" + sp(6) + "2302.75")),
    (2292, span(PURPLE_T, "50.00% (2285.00)")),
    (2252, span(ORANGE_T, "-61.8%" + sp(4) + "754" + sp(6) + "2252.25")),
    (2241, span(DKGREEN_T, "2242.25")),
    (2226, span(DKGREEN_T, "PRZ")),
    (2211, span(DKGREEN_T, "2211.00")),
    (2200, span(MAROON, "88.60% (2195.55)")),
    (2182, span(TEAL, "Line In Sand") + sp(8) + span(TEAL, "100%") + sp(5) + span(TEAL, "100%") + sp(4) + span(TEAL, "2175.25")),
    (2151, span(PURPLE_T, "113.00% (2140.42)")),
    (2092, span("#2a9a2a", "127.20%" + sp(2) + "2090.00")),
    (2033, span(TEAL, "Sig Lev") + sp(14) + span(TEAL, "1668") + sp(6) + span(TEAL, "2023.75")),
    (2018, span(TEAL, "1687") + sp(6) + span(TEAL, "2019.00")),
    (1981, span("#1f7a1f", "-61.8%") + sp(6) + span("#1f7a1f", "1981.75")),
    (1922, span(TEAL, "2071") + sp(8) + span(TEAL, "1923.00")),
]
for y, txt in right_rows:
    note(R_X, y, txt, size=11, xanchor="right")
note(534, 2498.5, "191 R1 Line 2488.50", color=ORANGE_T, size=11)

# value tags on the right axis
for val, bg, fg, yref, txt, shift in [
    (price_tags[0], "#e8151b", "white", "y", "%.2f" % price_tags[0], 0),
    (price_tags[1], "black", "white", "y", "%.2f" % price_tags[1], 0),
    (price_tags[2], "#ffe600", "black", "y", "%.2f" % price_tags[2], 0),
    (price_tags[3], "#f5cf16", "black", "y", "%.2f" % price_tags[3], 0),
    (volume_tags[0], "#b8b8b8", "white", "y2", "%dK" % volume_tags[0], 6),
    (volume_tags[1], "#e8151b", "white", "y2", "%dK" % volume_tags[1], -4),
    (osc_tag / 1000.0, "#e8151b", "white", "y3", "%dK" % osc_tag, 0),
    (rsi_tags[1], "#1d8a1d", "white", "y4", "%.2f" % rsi_tags[1], -5),
    (rsi_tags[0], "#ffe600", "black", "y4", "%.2f" % rsi_tags[0], 4),
]:
    note(1.0, val, txt, color=fg, size=12, xanchor="left", xref="paper", yref=yref, bgcolor=bg,
         bordercolor="black", borderwidth=0.5, borderpad=1, xshift=1, yshift=shift)
note(1878 / 1830, (968 - 35) / 941, "F", size=12, xref="paper", yref="paper", bordercolor="black",
     borderwidth=1, borderpad=2)

X_RANGE = [-1, X_END]
frame = dict(showgrid=False, zeroline=False, showline=True, linecolor="black", linewidth=1.5, mirror=True)
xa_hidden = dict(range=X_RANGE, showticklabels=False, ticks="", **frame)
yax = dict(side="right", ticks="outside", ticklen=5, tickcolor="black", tickfont=dict(size=11), **frame)

fig.update_layout(
    width=1891, height=1014,
    margin=dict(l=0, r=61, t=27, b=46),
    paper_bgcolor="white", plot_bgcolor="white",
    showlegend=False, barmode="overlay", bargap=0, hovermode=False,
    font=dict(family="Arial, Liberation Sans, sans-serif", size=11, color="black"),
    title=dict(text="ES 09-17 (1440 Min)" + sp(2) + "8/11/2017", x=0.5, xref="container", xanchor="center",
               y=1 - 13 / 1014, yref="container", yanchor="middle", font=dict(size=15, color="black")),
    xaxis=dict(domain=[0, 1], anchor="y", **xa_hidden),
    xaxis2=dict(domain=[0, 1], anchor="y2", matches="x", **xa_hidden),
    xaxis3=dict(domain=[0, 1], anchor="y3", matches="x", **xa_hidden),
    xaxis4=dict(domain=[0, 1], anchor="y4", matches="x", range=X_RANGE, showticklabels=False,
                tickmode="array", tickvals=[2 + 19 * k for k in range(len(tick_labels))],
                ticks="outside", ticklen=7, tickcolor="black",
                minor=dict(tickmode="linear", tick0=0, dtick=1, ticks="outside", ticklen=4, tickcolor="black"),
                **frame),
    yaxis=dict(domain=[0.3858, 1], range=[1914.2, 2581.5], tickmode="array",
               tickvals=list(range(1950, 2551, 50)), tickformat=".2f", **yax),
    yaxis2=dict(domain=[0.2572, 0.3858], range=[-548, 6081], tickmode="array",
                tickvals=[0, 2000, 4000], ticktext=["0", "", "4000K"], **yax),
    yaxis3=dict(domain=[0.1413, 0.2572], range=[-6.8, 85.6], tickmode="array",
                tickvals=[0, 50], ticktext=["0", "50M"], **yax),
    yaxis4=dict(domain=[0, 0.1413], range=[12.8, 92.6], tickmode="array",
                tickvals=[20, 40, 60, 80], ticktext=["20", "", "60", "80"], **yax),
    shapes=shapes,
    annotations=annotations,
)

fig.write_html("out.html")
